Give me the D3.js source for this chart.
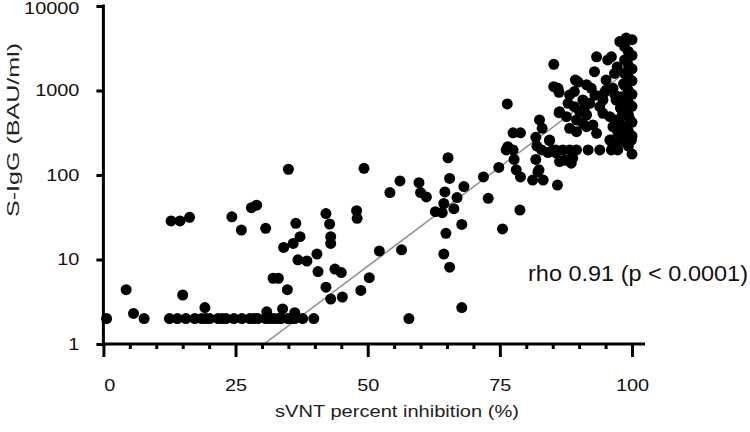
<!DOCTYPE html>
<html><head><meta charset="utf-8">
<script src="https://cdn.jsdelivr.net/npm/d3@7"></script>
<style>body{margin:0;background:#fff}</style>
</head><body>
<svg id="c" width="750" height="432"></svg>
<script>
// sVNT percent inhibition (%) for each sample
const inhibition = [
 0.6,4.3,5.7,7.7,12.8,14.5,16.3,12.5,14.0,15.6,15.0,
 17.3,18.6,19.4,20.1,21.7,22.5,23.2,24.7,26.2,27.7,28.5,29.2,30.7,31.5,32.2,33.0,33.6,34.9,35.5,36.2,37.7,39.8,
 19.2,24.3,26.1,28.0,29.0,30.7,35.0,36.4,34.1,35.9,36.8,32.1,33.1,34.8,33.9,30.9,36.2,
 37.2,38.5,40.4,40.6,42.1,42.8,43.0,43.0,43.8,45.0,42.1,43.0,45.2,47.9,48.0,48.7,49.3,50.3,52.2,54.2,56.1,56.4,57.8,
 59.7,60.0,61.1,62.8,64.1,64.4,64.6,65.2,65.5,64.8,64.4,65.5,66.3,66.9,68.2,67.8,67.8,
 71.9,72.8,74.8,75.5,76.4,76.2,77.5,77.5,78.9,77.7,78.1,78.9,78.8,81.2,83.2,81.8,82.0,81.8,82.4,82.5,83.0,84.4,82.9,84.1,85.7,85.9,
 85.2,85.2,86.2,86.2,84.4,76.5,82.2,85.0,87.3,88.5,
 85.6,86.9,88.2,89.5,91.7,93.9,96.1,97.3,86.3,87.6,88.8,100.0,96.4,95.8,97.0,
 97.7,98.9,100.0,93.3,95.4,96.1,92.9,95.1,96.7,89.8,91.4,92.3,86.0,88.2,89.1,95.1,96.4,94.5,93.9,97.0,98.0,90.7,92.0,87.9,89.1,
 86.3,87.6,90.1,91.4,94.5,95.8,97.0,99.5,89.5,90.7,88.2,89.5,91.4,92.6,96.4,97.3,93.3,96.1,99.9,89.3,
 98.6,99.3,100.0,98.6,99.3,100.0,98.6,99.3,100.0,98.6,99.3,100.0,98.6,99.3,100.0,98.6,99.3,100.0,98.6,99.3,100.0,99.3,
 97.8,98.2,97.6,98.3,97.9,98.1,97.5,98.4,97.2,96.8,94.8,93.0,91.0
];
// S-IgG (BAU/ml) for each sample
const siggBAU = [
 2,4.4,2.3,2,28.6,28.6,31.6,2,2,2,3.8,
 2,2,2,2,2,2,2,2,2,2,2,2,2,2,2,2,2,2,2,2,2,2,
 2.7,32,22.3,41,44,23.4,117,26.8,13.9,15.5,9.9,6,6,4.4,2.6,2.4,2.35,
 18.6,9.6,11.6,7.2,35,26.3,18.6,15.5,7.7,7,4.7,3.4,3.6,37.8,30.7,4.3,120,6.1,12.6,62,85,13,2,
 81,62,55,36.8,35.8,46,63,160,91,20.4,11.6,8.1,40,54,73,26,2.7,
 95,53,123,23,693,198,198,316,316,153,115,95,38.5,87,87,279,220,153,115,448,357,255,198,184,181,76,
 2040,1110,953,546,259,216,109,198,150,138,
 198,198,198,198,198,198,198,198,144,150,158,177,226,259,207,
 3800,4170,4000,2500,2300,2500,1670,1330,1590,1260,1170,1060,1060,885,970,1010,1060,772,643,772,845,772,706,706,643,
 561,490,561,513,537,490,448,469,448,409,357,326,373,391,373,326,311,259,259,1330,
 3300,2900,2600,2300,2000,1800,1600,1450,1300,1150,1000,900,800,720,650,580,520,420,380,330,290,220,
 620,520,410,350,300,270,240,1200,1900,880,950,880,620
];
const xTickValues = [0,25,50,75,100];
const xTickLabels = ["0","25","50","75","100"];
const xMinorTicks = [5,10,15,20,30,35,40,45,55,60,65,70,80,85,90,95];
const yTickValues = [1,10,100,1000,10000];
const yTickLabels = ["1","10","100","1000","10000"];
const fitX = [30.4,100];
const fitY = [1,1860];
const xTitle = "sVNT percent inhibition (%)";
const yTitle = "S-IgG (BAU/ml)";
const statText = "rho 0.91 (p < 0.0001)";

const svg = d3.select("#c");
const FONT = "'Liberation Sans', Arial, sans-serif";
const x = d3.scaleLinear().domain([0,100]).range([103.4,632]);
const y = d3.scaleLog().domain([1,10000]).range([344,6]);

// regression line
svg.append("line")
  .attr("x1", x(fitX[0])).attr("y1", y(fitY[0]))
  .attr("x2", x(fitX[1])).attr("y2", y(fitY[1]))
  .attr("stroke","#8a8a8a").attr("stroke-width",1.5);

// points
svg.append("g").selectAll("circle")
  .data(inhibition.map((v,i)=>[v,siggBAU[i]]))
  .join("circle")
  .attr("cx", d=>x(d[0])).attr("cy", d=>y(d[1])).attr("r",5.5)
  .attr("fill","#000");

// axes
const gx = svg.append("g").attr("transform","translate(0,344)")
  .call(d3.axisBottom(x).tickValues(xTickValues).tickFormat((d,i)=>xTickLabels[i]).tickSize(13).tickPadding(22));
gx.select(".domain").remove();
gx.selectAll(".tick text").filter(d=>d===0).attr("dx",6);
const gxm = svg.append("g").attr("transform","translate(0,344)")
  .call(d3.axisBottom(x).tickValues(xMinorTicks).tickFormat("").tickSize(5));
gxm.select(".domain").remove();
svg.append("line").attr("x1",102).attr("x2",645).attr("y1",344).attr("y2",344)
  .attr("stroke","#000").attr("stroke-width",3);

const gy = svg.append("g").attr("transform","translate(103.4,0)")
  .call(d3.axisLeft(y).tickValues(yTickValues).tickFormat((d,i)=>yTickLabels[i]).tickSize(7).tickPadding(17));
gy.select(".domain").remove();
gy.selectAll(".tick text").filter(d=>d===10000).attr("dy","0.45em");
svg.append("line").attr("x1",103.4).attr("x2",103.4).attr("y1",4.5).attr("y2",345.5)
  .attr("stroke","#000").attr("stroke-width",3);

svg.selectAll(".tick line").attr("stroke","#000").attr("stroke-width",3);
svg.selectAll(".tick text").attr("font-family",FONT).attr("font-size",17).attr("fill","#111");

// titles
svg.append("text").attr("class","stretch").attr("x",397).attr("y",417).attr("text-anchor","middle")
  .attr("font-family",FONT).attr("font-size",17).attr("fill","#222").attr("data-w",244).text(xTitle);
svg.append("text").attr("transform","translate(18.5,130) rotate(-90)").attr("text-anchor","middle")
  .attr("font-family",FONT).attr("font-size",17).attr("fill","#222").attr("data-w",174).attr("class","stretch").text(yTitle);
svg.append("text").attr("x",528).attr("y",281)
  .attr("font-family",FONT).attr("font-size",22).attr("fill","#111").attr("data-w",220).attr("class","stretch").text(statText);

// horizontal stretch to match reference glyph proportions
svg.selectAll(".tick text").each(function(){
  const w = this.getComputedTextLength();
  if (w>0){ this.setAttribute("textLength", w*1.17); this.setAttribute("lengthAdjust","spacingAndGlyphs"); }
});
svg.selectAll("text.stretch").each(function(){
  this.setAttribute("textLength", this.getAttribute("data-w"));
  this.setAttribute("lengthAdjust","spacingAndGlyphs");
});
</script>
</body></html>
